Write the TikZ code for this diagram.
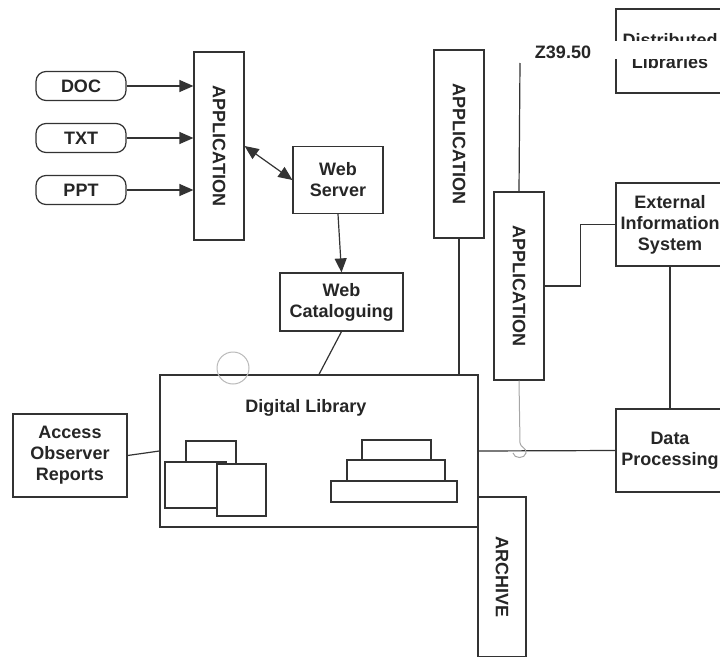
\documentclass[tikz,border=0pt]{standalone}
\usepackage{fontspec}
\setmainfont{Liberation Sans}
\usetikzlibrary{arrows.meta}

\tikzset{
  txt/.style={font=\bfseries\fontsize{18}{21}\selectfont, text=black!85, align=center},
  box/.style={txt, draw=black!80, line width=1.2pt, fill=white, inner sep=0pt},
  pill/.style={box, rounded corners=10pt, minimum width=90pt, minimum height=29pt},
  link/.style={draw=black!80, line width=1.2pt},
  arr/.style={link, -{Triangle[length=14pt,width=12pt]}},
  arrboth/.style={link, {Triangle[length=14pt,width=12pt]}-{Triangle[length=14pt,width=12pt]}}
}

\begin{document}
\begin{tikzpicture}[x=1pt, y=-1pt]
				\useasboundingbox (0,0) rectangle (720,656);
				\clip (0,0) rectangle (720,656);
				% Application boxes
				\node[box, minimum width=50pt, minimum height=188pt] (appA) at (219,146) {\rotatebox{-90}{APPLICATION}};
				\node[box, minimum width=50pt, minimum height=188pt] (appB) at (459,144) {\rotatebox{-90}{APPLICATION}};
				\node[box, minimum width=50pt, minimum height=188pt] (appC) at (519,286) {\rotatebox{-90}{APPLICATION}};
				% Documents
				\foreach \n/\t/\y in {doc/DOC/86, txt/TXT/138, ppt/PPT/190}
					\node[pill] (\n) at (81,\y) {\t};
				\foreach \n in {doc, txt, ppt}
					\draw[arr] (\n) -- (\n -| appA.west);
				% Web side
				\node[box, minimum width=90pt, minimum height=67pt] (websrv) at (338,180) {Web\\Server};
				\node[box, minimum width=123pt, minimum height=58pt] (webcat) at (341.5,302) {Web\\Cataloguing};
				\draw[arrboth] (appA.east) -- (websrv.west);
				\draw[arr] (websrv.south) -- (webcat.north);
				% Digital library
				\node[box, minimum width=318pt, minimum height=152pt] (dlib) at (319,451) {};
				\node[txt] (dltitle) at (306,408) {Digital Library};
				\draw[gray!55, line width=1pt] (233,368) circle (16);
				\draw[link] (webcat.south) -- (dlib.north);
				\draw[link] (appB.south) -- (appB.south |- dlib.north);
				% Pictures inside
				\filldraw[link, fill=white] (186,441) rectangle (236,464);
				\filldraw[link, fill=white] (165,462) rectangle (226,508);
				\filldraw[link, fill=white] (217,464) rectangle (266,516);
				\filldraw[link, fill=white] (362,440) rectangle (431,460);
				\filldraw[link, fill=white] (347,460) rectangle (445,481);
				\filldraw[link, fill=white] (331,481) rectangle (457,502);
				% Left and bottom
				\node[box, minimum width=114pt, minimum height=83pt] (access) at (70,455.5) {Access\\Observer\\Reports};
				\draw[link] (access.east) -- (dlib.west);
				\node[box, minimum width=48pt, minimum height=160pt] (archive) at (502,577) {\rotatebox{-90}{ARCHIVE}};
				% Right column
				\node[box, minimum width=108pt, minimum height=84pt] (distlib) at (670,51) {Distributed\\[1pt]Libraries};
				\fill[white] (596,40.5) rectangle (720,58.5);
				\node[box, minimum width=108pt, minimum height=83pt] (extinfo) at (670,224.5) {External\\Information\\System};
				\node[box, minimum width=108pt, minimum height=83pt] (dataproc) at (670,450.5) {Data\\Processing};
				\node[txt] (z3950) at (563,52) {Z39.50};
				\coordinate (ztop) at (520,63);
				\draw[link] (ztop) -- (appC.north);
				\draw[link] (appC.east) -- ++(36,0) |- (extinfo.west);
				\draw[link] (extinfo.south) -- (dataproc.north);
				\draw[link] (dlib.east) -- (dataproc.west);
				% Hop over the line
				\draw[gray!70, line width=1pt] (appC.south) -- (520,443) .. controls (520,447) and (527,448) .. (526,453) .. controls (525,459) and (514,459) .. (513,453);
			\end{tikzpicture}
\end{document}
